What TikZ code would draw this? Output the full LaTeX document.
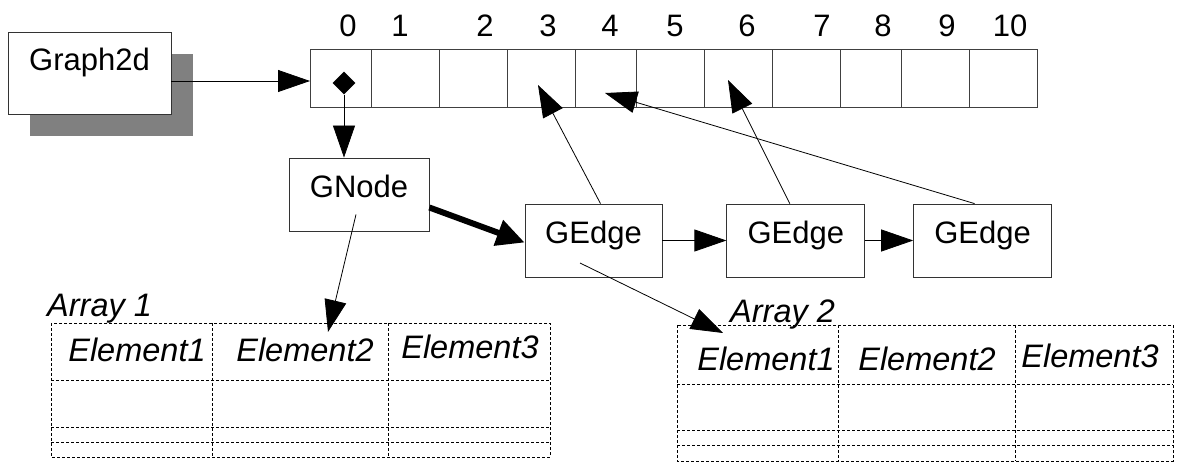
\documentclass[tikz,border=0pt]{standalone}
\usepackage{fontspec}
\setmainfont{Liberation Sans}
\usetikzlibrary{arrows.meta,positioning,shapes.geometric,shadows}

\tikzset{
	box/.style={draw=black!80, fill=white, line width=0.8pt, minimum width=138pt, minimum height=73pt, inner sep=0pt, text height=22pt, text depth=15pt, font=\fontsize{31}{31}\selectfont},
	cell/.style={draw=black!75, fill=white, line width=0.8pt, minimum height=58pt, inner sep=0pt, outer sep=0pt},
	idx/.style={inner sep=0pt, text height=22pt, text depth=0pt, font=\fontsize{31}{31}\selectfont},
	elem/.style={inner sep=0pt, text height=23pt, text depth=0pt, font=\fontsize{32.5}{32.5}\selectfont\itshape},
	grid/.style={draw=black, line width=0.7pt, dash pattern=on 3pt off 2pt},
	ptr/.style={line width=0.8pt, -{Triangle[length=32pt,width=22pt]}},
	bold ptr/.style={line width=6pt, -{Triangle[length=28pt,width=26pt]}}
}

\begin{document}
\begin{tikzpicture}[x=1pt, y=-1pt]
	\useasboundingbox (0,0) rectangle (1179,462);

	\node[box, minimum width=163pt, minimum height=82pt, text depth=26pt, drop shadow={shadow xshift=22pt, shadow yshift=-22pt, fill=gray, opacity=1}] (g2d) at (89.5,73) {Graph2d};

	\foreach \i/\l/\r in {0/310/371,1/371/439,2/439/507,3/507/575,4/575/636,5/636/704,6/704/772,7/772/840,8/840/901,9/901/969,10/969/1037}
		\node[cell, minimum width={(\r-\l)*1pt}] (c\i) at ({(\l+\r)/2},78) {};
	\foreach \i/\x in {0/348,1/400,2/485,3/548,4/610,5/675,6/747,7/822,8/883,9/947,10/1010}
		\node[idx] (l\i) at (\x,25.5) {\i};

	\node[diamond, fill=black, inner sep=0pt, minimum width=23pt, minimum height=23pt] (dia) at (344,83) {};

	\node[box, minimum width=140pt] (gnode) at (359,194.5) {GNode};
	\node[box, minimum width=137pt] (e1) at (593.5,240.5) {GEdge};
	\node[box, right=64pt of e1] (e2) {GEdge};
	\node[box, right=48pt of e2] (e3) {GEdge};

	\coordinate (t3) at (538,85);
	\coordinate (t4) at (605,93);
	\coordinate (t6) at (728,80);
	\coordinate (a1in) at (328,332);
	\coordinate (a2in) at (723,333);

	\draw[ptr] ([yshift=-8pt]g2d.east) -- ([yshift=-8pt]g2d.east -| c0.west);
	\draw[ptr] (dia.south) -- (dia.south |- gnode.north);
	\draw[bold ptr] ([yshift=-13pt]gnode.east) -- ([yshift=-2pt]e1.west);
	\draw[ptr] (e1.east) -- (e2.west);
	\draw[ptr] (e2.east) -- (e3.west);
	\draw[ptr] ([xshift=7pt]e1.north) -- (t3);
	\draw[ptr] ([xshift=-6pt]e2.north) -- (t6);
	\draw[ptr] ([xshift=-8pt]e3.north) -- (t4);
	\draw[ptr] ([shift={(-3pt,-20pt)}]gnode.center) -- (a1in);
	\draw[ptr] ([shift={(-13.5pt,-22.5pt)}]e1.center) -- (a2in);

	% Array 1
	\node[elem, anchor=west] (arr1) at (47,305) {Array 1};
	\draw[grid] (51,323) rectangle (550,457);
	\foreach \y in {380,427,442}
		\draw[grid] (51,\y) -- (550,\y);
	\foreach \x in {212,388}
		\draw[grid] (\x,323) -- (\x,457);
	\node[elem] (a1e1) at (137,350) {Element1};
	\node[elem] (a1e2) at (305,350) {Element2};
	\node[elem] (a1e3) at (470,347) {Element3};

	% Array 2
	\node[elem, anchor=west] (arr2) at (730,311) {Array 2};
	\draw[grid] (677,325) rectangle (1173,461);
	\foreach \y in {384,430,445}
		\draw[grid] (677,\y) -- (1173,\y);
	\foreach \x in {838,1015}
		\draw[grid] (\x,325) -- (\x,461);
	\node[elem] (a2e1) at (766,359) {Element1};
	\node[elem] (a2e2) at (927,359) {Element2};
	\node[elem] (a2e3) at (1090,356) {Element3};
\end{tikzpicture}
\end{document}
